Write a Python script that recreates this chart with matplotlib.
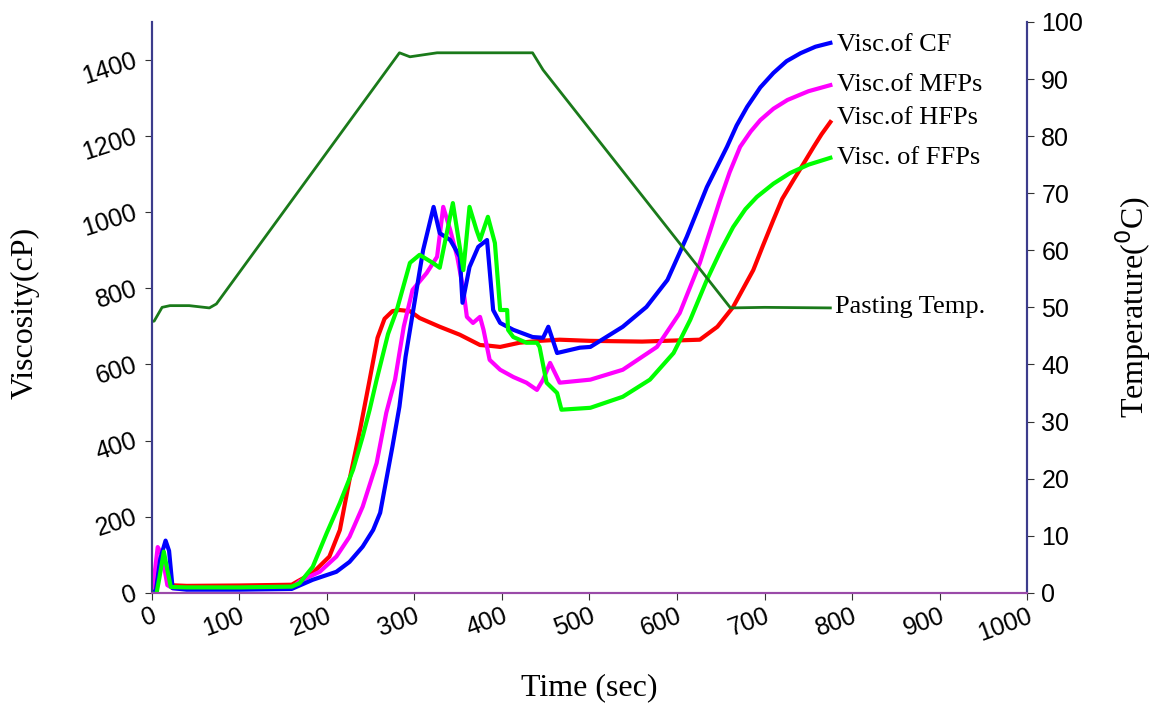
import numpy as np
from matplotlib import pyplot as plt

# Time axis (sec) and viscosity (cP)
t_cf = [0, 5, 10, 16, 20, 24, 40, 100, 160, 184, 211, 226, 241, 253, 261, 268, 275, 283, 290,
        300, 310, 322, 329, 341, 352, 355, 363, 373, 383, 390, 398, 413, 435, 447, 453, 463,
        489, 501, 538, 565, 589, 611, 634, 657, 668, 680, 695, 710, 725, 741, 758, 775]
v_cf = [0, 5, 90, 137, 110, 12, 8, 8, 10, 34, 55, 81, 121, 165, 210, 297, 384, 489, 620,
        760, 900, 1014, 945, 927, 883, 762, 856, 909, 927, 743, 709, 691, 672, 670, 699, 630,
        644, 646, 699, 751, 822, 935, 1066, 1172, 1228, 1277, 1328, 1366, 1397, 1418, 1435, 1445]

t_mfp = [0, 4, 7, 12, 18, 24, 40, 100, 160, 169, 192, 211, 226, 241, 257, 268, 278, 288, 298,
         314, 326, 333, 341, 349, 356, 360, 367, 375, 379, 386, 398, 413, 428, 440, 447, 455,
         466, 501, 538, 577, 603, 626, 649, 660, 672, 684, 695, 710, 726, 750, 775]
v_mfp = [0, 60, 120, 100, 20, 12, 10, 10, 12, 30, 55, 95, 147, 226, 341, 473, 560, 700, 796,
         840, 883, 1014, 953, 883, 796, 725, 709, 725, 691, 612, 586, 567, 552, 533, 560, 604,
         552, 560, 586, 646, 735, 867, 1032, 1105, 1172, 1212, 1242, 1272, 1295, 1318, 1334]

t_hfp = [0, 5, 10, 16, 20, 40, 100, 160, 166, 184, 203, 215, 226, 238, 249, 258, 266, 275,
         283, 295, 306, 329, 352, 375, 386, 398, 420, 443, 466, 500, 560, 626, 646, 664, 687,
         698, 710, 720, 733, 745, 756, 765, 775]
v_hfp = [0, 30, 80, 60, 20, 18, 19, 21, 29, 52, 95, 165, 297, 428, 560, 670, 720, 740,
         743, 740, 722, 699, 678, 651, 649, 646, 657, 662, 665, 662, 660, 665, 699, 751, 848,
         912, 980, 1035, 1085, 1130, 1172, 1205, 1237]

t_ffp = [0, 5, 9, 14, 18, 22, 40, 100, 160, 169, 184, 200, 215, 230, 241, 249, 257, 270, 280,
         295, 306, 321, 329, 344, 356, 363, 371, 375, 384, 392, 398, 406, 407, 413, 428, 440,
         443, 451, 463, 468, 501, 538, 569, 596, 615, 634, 650, 664, 678, 691, 710, 729, 750,
         775]
v_ffp = [0, -10, 40, 108, 60, 15, 14, 14, 16, 25, 68, 157, 236, 323, 410, 481, 560, 680, 743,
         867, 888, 867, 854, 1024, 848, 1014, 953, 927, 988, 919, 743, 743, 691, 672, 657, 657,
         646, 552, 525, 481, 486, 515, 560, 630, 717, 822, 900, 961, 1008, 1040, 1075, 1103,
         1125, 1143]

# Temperature profile (deg C)
t_temp = [0, 3, 12, 21, 43, 66, 74, 283, 295, 326, 435, 447, 661, 700, 775]
v_temp = [47.5, 47.6, 50, 50.3, 50.3, 49.9, 50.6, 94.6, 93.9, 94.6, 94.6, 91.6,
          49.9, 50, 49.9]

labels = ["Visc.of CF", "Visc.of MFPs", "Visc.of HFPs", "Visc. of FFPs"]
colors = ["#0000ff", "#ff00ff", "#ff0000", "#00ff00"]
label_y = [1440, 1334, 1247, 1143]

plt.rcParams['font.family'] = ['Liberation Sans', 'DejaVu Sans']
serif = ['Liberation Serif', 'DejaVu Serif']

fig = plt.figure(figsize=(11.57, 7.09), dpi=100)
ax = fig.add_axes([0.131, 0.164, 0.757, 0.805])
ax2 = ax.twinx()

series = [(t_cf, v_cf), (t_mfp, v_mfp), (t_hfp, v_hfp), (t_ffp, v_ffp)]
# draw red first so blue/magenta/green sit on top like the original
for i in [2, 1, 0, 3]:
    tx, vy = series[i]
    ax.plot(tx, vy, color=colors[i], lw=3.0, solid_joinstyle='round', zorder=3)
ax2.plot(t_temp, v_temp, color='#1a7a1a', lw=2.0)

for lab, yy in zip(labels, label_y):
    ax.text(783, yy, lab, family=serif, fontsize=19, va='center', ha='left')
ax.text(780, 751, "Pasting Temp.", family=serif, fontsize=19, va='center', ha='left')

ax.set_xlim(0, 1000)
ax.set_ylim(0, 1500)
ax2.set_ylim(0, 100)
ax.set_xticks(np.arange(0, 1001, 100))
ax.set_yticks(np.arange(0, 1401, 200))
ax2.set_yticks(np.arange(0, 101, 10))
ax.tick_params(axis='x', labelsize=18, length=5, color='#333333', pad=3)
ax.tick_params(axis='y', labelsize=18, length=5, color='#333333', pad=6)
ax2.tick_params(axis='y', labelsize=18, length=5, color='#333333', pad=5)
for lbl in ax.get_xticklabels():
    lbl.set_rotation(20)
    lbl.set_ha('right')
    lbl.set_rotation_mode('anchor')
for lbl in ax.get_yticklabels():
    lbl.set_rotation(18)
    lbl.set_ha('right')
    lbl.set_va('center')
    lbl.set_rotation_mode('anchor')

for a in (ax, ax2):
    a.spines['top'].set_visible(False)
    a.spines['left'].set_color('#3c3c8c')
    a.spines['right'].set_color('#3c3c8c')
    a.spines['bottom'].set_color('#9a4aa8')
    a.spines['left'].set_linewidth(1.5)
    a.spines['right'].set_linewidth(1.5)
    a.spines['bottom'].set_linewidth(1.5)

ax.set_xlabel("Time (sec)", family=serif, fontsize=23, labelpad=20)
ax.set_ylabel("Viscosity(cP)", family=serif, fontsize=23)
ax.yaxis.set_label_coords(-0.128, 0.49)
ax2.set_ylabel("Temperature($^{0}$C)", family=serif, fontsize=23, labelpad=22)

fig.savefig("out.png", dpi=100)
